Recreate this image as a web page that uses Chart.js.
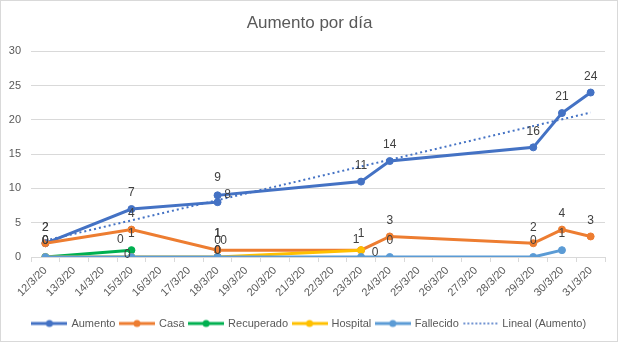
<!DOCTYPE html>
<html><head><meta charset="utf-8">
<script src="https://cdn.jsdelivr.net/npm/chart.js@4/dist/chart.umd.min.js"></script>
<style>html,body{margin:0;padding:0;background:#fff}</style>
</head><body>
<canvas id="c" width="619" height="343"></canvas>
<script>
const CATEGORIES = ['12/3/20','13/3/20','14/3/20','15/3/20','16/3/20','17/3/20','18/3/20','19/3/20','20/3/20','21/3/20','22/3/20','23/3/20','24/3/20','25/3/20','26/3/20','27/3/20','28/3/20','29/3/20','30/3/20','31/3/20'];
const DATES = ['12/3/20','15/3/20','18/3/20','18/3/20','23/3/20','24/3/20','29/3/20','30/3/20','31/3/20'];
const AUMENTO = [2,7,8,9,11,14,16,21,24];
const CASA = [2,4,1,1,1,3,2,4,3];
const RECUPERADO = [0,1,null,null,null,null,null,null,null];
const HOSPITAL = [0,0,0,0,1,null,null,null,null];
const FALLECIDO = [0,0,0,0,0,0,0,1,null];
const Y_TICKS = [0,5,10,15,20,25,30];

const LABEL_OFFSETS = {
  'Aumento': {2:[10,-7], 3:[0,-18]},
  'Hospital': {1:[-11,-17], 2:[0,-16], 3:[6,-16], 4:[-5,-10]},
  'Fallecido': {1:[-4,-2], 2:[0,-6], 3:[0,-6], 4:[14,-4]}
};

function toPoints(arr){ return DATES.map((d,i)=>({x:d,y:arr[i]})).filter(p=>p.y!==null); }

// linear trend (Excel "Lineal") on date position
function trend(arr){
  const xs = DATES.map(d=>CATEGORIES.indexOf(d));
  const n = xs.length;
  const mx = xs.reduce((a,b)=>a+b,0)/n, my = arr.reduce((a,b)=>a+b,0)/n;
  let sxy=0,sxx=0;
  for(let i=0;i<n;i++){ sxy+=(xs[i]-mx)*(arr[i]-my); sxx+=(xs[i]-mx)*(xs[i]-mx); }
  const b = sxy/sxx, a = my-b*mx;
  const x0 = xs[0], x1 = xs[n-1];
  return [{x:CATEGORIES[x0], y:a+b*x0},{x:CATEGORIES[x1], y:a+b*x1}];
}

function legendIcon(color, dotted){
  const c = document.createElement('canvas');
  c.width = 36; c.height = 10;
  const g = c.getContext('2d');
  g.strokeStyle = color;
  if (dotted){
    g.lineWidth = 1.5; g.setLineDash([2,2]);
    g.beginPath(); g.moveTo(1,5); g.lineTo(35,5); g.stroke();
  } else {
    g.lineWidth = 3;
    g.beginPath(); g.moveTo(0,5); g.lineTo(36,5); g.stroke();
    g.fillStyle = color; g.beginPath(); g.arc(18,5,3.5,0,Math.PI*2); g.fill();
  }
  return c;
}

const COLORS = ['#4472C4','#ED7D31','#00B050','#FFC000','#5B9BD5','#4472C4'];
const NAMES = ['Aumento','Casa','Recuperado','Hospital','Fallecido','Lineal (Aumento)'];
const SERIES = [AUMENTO,CASA,RECUPERADO,HOSPITAL,FALLECIDO];
const ICONS = COLORS.map((c,i)=>legendIcon(c, i===5));

const datasets = SERIES.map((s,i)=>({
  label: NAMES[i],
  data: toPoints(s),
  borderColor: COLORS[i],
  backgroundColor: COLORS[i],
  pointBackgroundColor: COLORS[i],
  pointBorderColor: COLORS[i],
  borderWidth: 3,
  pointRadius: 3.5,
  pointBorderWidth: 1,
  tension: 0,
  order: 6 - i,
  showLabels: true
}));
datasets.push({
  label: NAMES[5],
  data: trend(AUMENTO),
  borderColor: COLORS[5],
  backgroundColor: COLORS[5],
  borderWidth: 2,
  borderDash: [2,3],
  pointRadius: 0,
  order: 0,
  showLabels: false
});

const bgPlugin = {
  id: 'bg',
  beforeDraw(chart){
    const ctx = chart.ctx;
    ctx.save();
    ctx.fillStyle = '#fff'; ctx.fillRect(0,0,chart.width,chart.height);
    ctx.strokeStyle = '#d9d9d9'; ctx.lineWidth = 1;
    ctx.strokeRect(0.5,0.5,617,341);
    ctx.restore();
  }
};

const labelPlugin = {
  id: 'dlabels',
  afterDatasetsDraw(chart){
    const ctx = chart.ctx;
    ctx.save();
    ctx.font = '12px "Liberation Sans", Arial, sans-serif';
    ctx.fillStyle = '#404040';
    ctx.textAlign = 'center';
    ctx.textBaseline = 'middle';
    chart.data.datasets.forEach((ds, di)=>{
      if(!ds.showLabels) return;
      const meta = chart.getDatasetMeta(di);
      const offs = LABEL_OFFSETS[ds.label] || {};
      meta.data.forEach((el, j)=>{
        const v = ds.data[j].y;
        const o = offs[j] || [0,-16];
        ctx.fillText(String(v), el.x + o[0], el.y + o[1]);
      });
    });
    ctx.restore();
  }
};

new Chart(document.getElementById('c'), {
  type: 'line',
  data: { labels: CATEGORIES, datasets },
  plugins: [bgPlugin, labelPlugin],
  options: {
    responsive: false,
    animation: false,
    layout: { padding: { left: 14, right: 14, top: 0, bottom: 4 } },
    plugins: {
      title: {
        display: true,
        text: 'Aumento por día',
        color: '#595959',
        font: { family: '"Liberation Sans", Arial, sans-serif', size: 17, weight: 'normal' },
        padding: { top: 13, bottom: 18 }
      },
      legend: {
        position: 'bottom',
        labels: {
          usePointStyle: true,
          pointStyleWidth: 33,
          boxHeight: 10,
          padding: 5,
          color: '#595959',
          font: { family: '"Liberation Sans", Arial, sans-serif', size: 11 },
          generateLabels(chart){
            return Chart.defaults.plugins.legend.labels.generateLabels(chart)
              .map(l=>({...l, pointStyle: ICONS[l.datasetIndex]}));
          },
          sort: (a,b)=>a.datasetIndex-b.datasetIndex
        }
      },
      tooltip: { enabled: false }
    },
    scales: {
      x: {
        type: 'category',
        offset: true,
        grid: { display: true, drawOnChartArea: false, drawTicks: true, tickLength: 5, color: '#d9d9d9', offset: true },
        border: { display: true, color: '#d9d9d9' },
        ticks: {
          autoSkip: false, maxRotation: 45, minRotation: 45, padding: 2,
          color: '#595959',
          font: { family: '"Liberation Sans", Arial, sans-serif', size: 11 }
        },
        afterFit(scale){ scale.height = 56; }
      },
      y: {
        min: 0, max: 30,
        afterBuildTicks(scale){ scale.ticks = Y_TICKS.map(v=>({value:v})); },
        grid: { color: '#d9d9d9', drawTicks: false },
        border: { display: false },
        ticks: {
          padding: 10,
          color: '#595959',
          font: { family: '"Liberation Sans", Arial, sans-serif', size: 11 }
        },
        afterFit(scale){ scale.width = 17; scale._computeLabelArea = function(){ return undefined; }; }
      }
    }
  }
});
</script>
</body></html>
